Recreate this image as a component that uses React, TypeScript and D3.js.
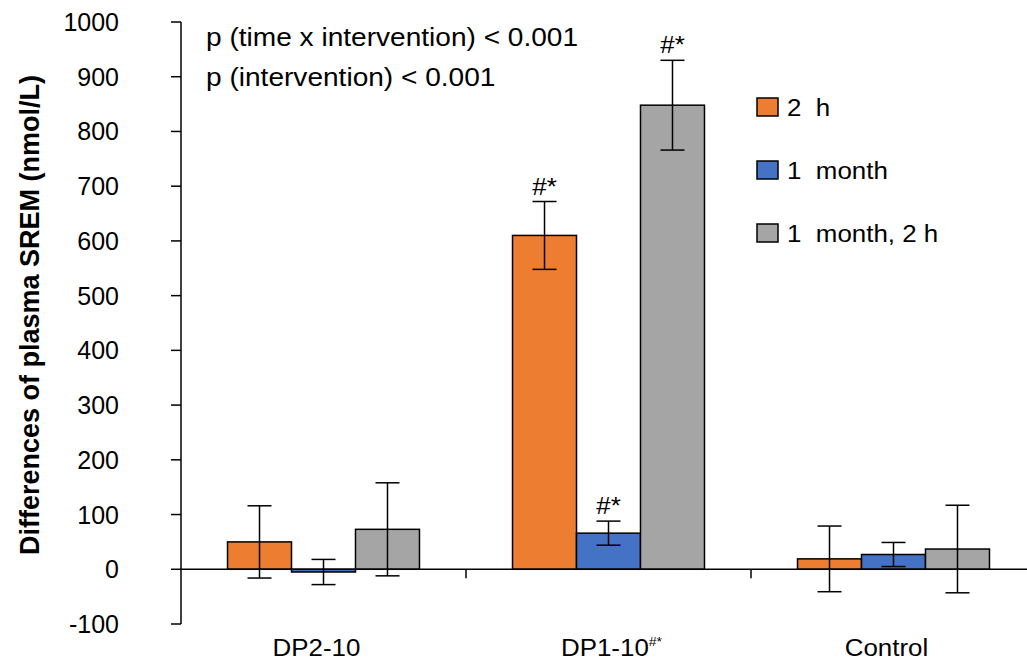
import React from "react";
import * as d3 from "d3";

const categories = ["DP2-10", "DP1-10", "Control"];
const series = ["2  h", "1  month", "1  month, 2 h"];
const colors = ["#ED7D31", "#4472C4", "#A5A5A5"];
// values[series][category]
const means = [
  [50, 610, 19],
  [-5, 66, 27],
  [73, 848, 37],
];
const errors = [
  [66, 62, 60],
  [23, 22, 22],
  [85, 82, 80],
];
const sigLabels = [
  ["", "#*", ""],
  ["", "#*", ""],
  ["", "#*", ""],
];
const yTicks = [-100, 0, 100, 200, 300, 400, 500, 600, 700, 800, 900, 1000];
const annotations = ["p (time x intervention) < 0.001", "p (intervention) < 0.001"];

const W = 1027;
const H = 660;
const FONT = "'Liberation Sans', Arial, Helvetica, sans-serif";
const SX = 1.08;

function T(props: {
  x: number;
  y: number;
  size: number;
  anchor?: string;
  dy?: string;
  children: React.ReactNode;
  pre?: boolean;
}) {
  return (
    <text
      transform={`translate(${props.x},${props.y}) scale(${SX},1)`}
      fontSize={props.size}
      textAnchor={props.anchor || "start"}
      dy={props.dy}
      fill="#000"
      style={props.pre ? { whiteSpace: "pre" } : undefined}
    >
      {props.children}
    </text>
  );
}

export default function App() {
  const axisX = 181;
  const y = d3.scaleLinear().domain([-100, 1000]).range([624, 22]);
  const x0 = d3.scaleBand<string>().domain(categories).range([axisX, axisX + 855]).padding(0);
  const x1 = d3
    .scaleBand<string>()
    .domain(series)
    .range([0, x0.bandwidth()])
    .paddingInner(0)
    .paddingOuter(0.727);
  const y0 = y(0);
  const capHalf = 12;

  return (
    <svg
      width={W}
      height={H}
      style={{ position: "absolute", left: 0, top: 0, background: "#fff" }}
      fontFamily={FONT}
    >
      {/* y axis */}
      <line x1={axisX} x2={axisX} y1={y(1000)} y2={y(-100)} stroke="#000" strokeWidth={1.5} />
      {yTicks.map((t) => (
        <g key={t}>
          <line x1={axisX - 10} x2={axisX} y1={y(t)} y2={y(t)} stroke="#000" strokeWidth={1.5} />
          <text x={119} y={y(t)} dy="0.36em" textAnchor="end" fontSize={25} fill="#000">
            {t}
          </text>
        </g>
      ))}
      <text
        transform={`translate(29, ${(y(1000) + y(-100)) / 2 - 8}) rotate(-90)`}
        textAnchor="middle"
        dy="0.36em"
        fontSize={27}
        fontWeight="bold"
        fill="#000"
      >
        Differences of plasma SREM (nmol/L)
      </text>

      {/* bars */}
      {series.map((s, si) =>
        categories.map((c, ci) => {
          const v = means[si][ci];
          const bx = (x0(c) as number) + (x1(s) as number);
          const top = Math.min(y(v), y0);
          const h = Math.abs(y(v) - y0);
          return (
            <rect
              key={`${s}-${c}`}
              x={bx}
              y={top}
              width={x1.bandwidth()}
              height={h}
              fill={colors[si]}
              stroke="#000"
              strokeWidth={1.5}
            />
          );
        })
      )}

      {/* x axis */}
      <line x1={axisX} x2={W} y1={y0} y2={y0} stroke="#000" strokeWidth={1.5} />
      {categories.slice(1).map((c) => (
        <line
          key={c}
          x1={x0(c) as number}
          x2={x0(c) as number}
          y1={y0}
          y2={y0 + 9}
          stroke="#000"
          strokeWidth={1.5}
        />
      ))}

      {/* error bars */}
      {series.map((s, si) =>
        categories.map((c, ci) => {
          const v = means[si][ci];
          const e = errors[si][ci];
          const cx = (x0(c) as number) + (x1(s) as number) + x1.bandwidth() / 2;
          const yt = y(v + e);
          const yb = y(v - e);
          return (
            <g key={`e-${s}-${c}`} stroke="#000" strokeWidth={1.5}>
              <line x1={cx} x2={cx} y1={yt} y2={yb} />
              <line x1={cx - capHalf} x2={cx + capHalf} y1={yt} y2={yt} />
              <line x1={cx - capHalf} x2={cx + capHalf} y1={yb} y2={yb} />
            </g>
          );
        })
      )}

      {/* significance labels */}
      {series.map((s, si) =>
        categories.map((c, ci) => {
          const lab = sigLabels[si][ci];
          if (!lab) return null;
          const v = means[si][ci];
          const e = errors[si][ci];
          const cx = (x0(c) as number) + (x1(s) as number) + x1.bandwidth() / 2;
          return (
            <T key={`s-${s}-${c}`} x={cx} y={y(v + e) - 7} anchor="middle" size={24}>
              {lab}
            </T>
          );
        })
      )}

      {/* category labels */}
      {categories.map((c, ci) => {
        const cx = (x0(c) as number) + x0.bandwidth() / 2;
        return (
          <T key={c} x={ci === 1 ? cx + 3 : cx - 7} y={656} anchor="middle" size={24}>
            {c}
            {ci === 1 ? (
              <tspan fontSize={13} dy={-10}>
                #*
              </tspan>
            ) : null}
          </T>
        );
      })}

      {/* annotations */}
      {annotations.map((a, i) => (
        <T key={a} x={206} y={46 + i * 40} size={26}>
          {a}
        </T>
      ))}

      {/* legend */}
      {series.map((s, i) => {
        const ly = 107 + i * 63;
        return (
          <g key={s}>
            <rect x={757} y={ly - 9} width={21} height={18} fill={colors[i]} stroke="#000" strokeWidth={1.5} />
            <T x={787} y={ly} dy="0.36em" size={24} pre>
              {s}
            </T>
          </g>
        );
      })}
    </svg>
  );
}
